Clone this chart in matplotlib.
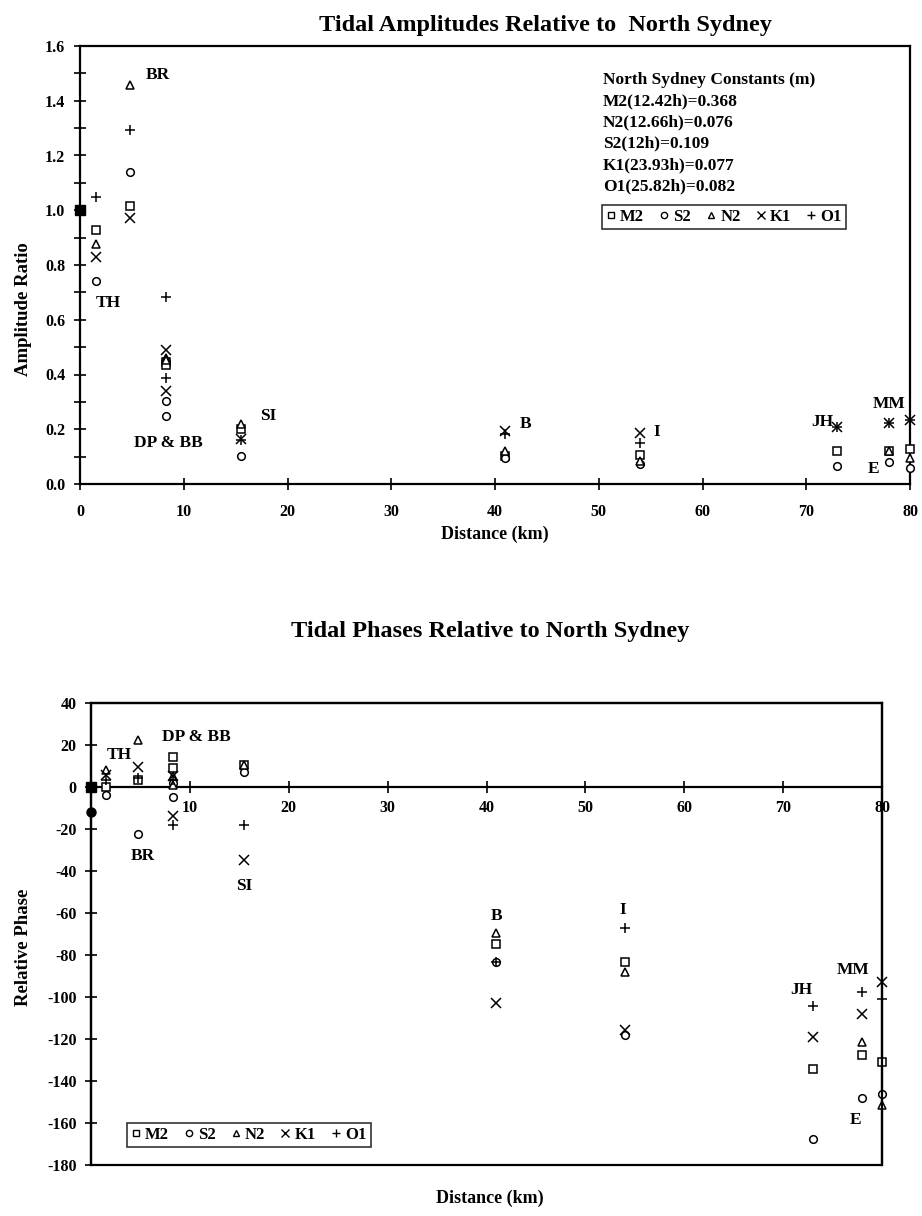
import numpy as np
import matplotlib
matplotlib.use("Agg")
import matplotlib.pyplot as plt
from matplotlib.lines import Line2D
from matplotlib.patches import Rectangle

plt.rcParams['font.family'] = ['Liberation Serif', 'DejaVu Serif']
plt.rcParams['font.weight'] = 'bold'
plt.rcParams['axes.unicode_minus'] = False

# ---------------- data ----------------
dist = [1.5, 4.8, 8.3, 8.3, 15.5, 41.0, 54.0, 73.0, 78.0, 80.0]   # TH, BR, DP, BB, SI, B, I, JH, MM, E
nan = np.nan

amp_M2 = [0.927, 1.016, 0.445, 0.433, 0.201, 0.104, 0.107, 0.122, 0.122, 0.128]
amp_S2 = [0.741, 1.138, 0.305, 0.250, 0.104, 0.095, 0.073, 0.067, 0.079, 0.059]
amp_N2 = [0.878, 1.457, 0.460, 0.452, 0.220, 0.122, 0.085, nan, 0.122, 0.095]
amp_K1 = [0.829, 0.970, 0.491, 0.338, 0.165, 0.195, 0.185, 0.207, 0.222, 0.234]
amp_O1 = [1.048, 1.293, 0.682, 0.386, 0.160, 0.183, 0.149, 0.207, 0.222, 0.234]

ph_M2 = [0.0, 3.2, 14.0, 8.8, 10.5, -75.0, -83.6, -134.1, -127.8, -131.2]
ph_S2 = [-3.9, -22.5, 2.0, -4.8, 7.0, -83.3, -117.9, -167.4, -148.1, -146.0]
ph_N2 = [8.0, 22.2, 5.0, 0.8, 10.5, -69.8, -88.1, nan, -121.4, -151.6]
ph_K1 = [5.5, 9.2, 5.0, -14.0, -35.0, -103.0, -115.9, -119.0, -108.2, -92.9]
ph_O1 = [3.2, 4.1, 3.0, -18.3, -18.3, -83.3, -67.1, -104.3, -97.9, -101.1]

# reference station (North Sydney)
ref_amp = [1.0]
ref_phase = [0.0]
ref_phase_extra = [-12.0]

constituents = ['M2', 'S2', 'N2', 'K1', 'O1']
markers = ['s', 'o', '^', 'x', '+']
amps = [amp_M2, amp_S2, amp_N2, amp_K1, amp_O1]
phases = [ph_M2, ph_S2, ph_N2, ph_K1, ph_O1]

constants_text = ["North Sydney Constants (m)",
                  "M2(12.42h)=0.368",
                  "N2(12.66h)=0.076",
                  "S2(12h)=0.109",
                  "K1(23.93h)=0.077",
                  "O1(25.82h)=0.082"]

amp_labels = [("BR", 6.3, 1.494, 'left'), ("TH", 2.75, 0.661, 'center'),
              ("DP & BB", 8.5, 0.149, 'center'), ("SI", 18.1, 0.25, 'center'),
              ("B", 42.9, 0.22, 'center'), ("I", 55.6, 0.189, 'center'),
              ("JH", 71.5, 0.225, 'center'), ("MM", 78.0, 0.293, 'center'),
              ("E", 76.5, 0.055, 'center')]
phase_labels = [("TH", 2.85, 15.1), ("DP & BB", 10.7, 23.8), ("BR", 5.2, -33.0),
                ("SI", 15.5, -47.0), ("B", 41.0, -61.3), ("I", 53.8, -58.7),
                ("JH", 71.8, -96.8), ("MM", 77.1, -87.3), ("E", 77.3, -158.7)]

# ---------------- figure ----------------
W, H = 922, 1216
fig = plt.figure(figsize=(W / 100, H / 100), dpi=100)

def ax_rect(l, r, t, b):
    return [l / W, 1 - b / H, (r - l) / W, (b - t) / H]

def fx(px):
    return px / W

def fy(py):
    return 1 - py / H

ms = 5.5
mew = 1.1
tick_fs = 11.5
lab_fs = 13

def draw_markers(ax, ys):
    for m, y in zip(markers, ys):
        if m in ('x', '+'):
            ax.plot(dist, y, linestyle='none', marker=m, color='black',
                    ms=ms + 1, mew=mew, clip_on=False, zorder=3)
        else:
            ax.plot(dist, y, linestyle='none', marker=m, mfc='white', mec='black',
                    ms=ms, mew=mew, clip_on=False, zorder=3)

def make_legend(ax, loc_xy):
    handles = []
    for m, c in zip(markers, constituents):
        if m in ('x', '+'):
            h = Line2D([], [], linestyle='none', marker=m, color='black', ms=ms, mew=1.0)
        else:
            h = Line2D([], [], linestyle='none', marker=m, mfc='white', mec='black', ms=ms - 1, mew=1.0)
        handles.append(h)
    leg = ax.legend(handles, constituents, loc='lower left', bbox_to_anchor=loc_xy,
                    ncol=5, frameon=True, fancybox=False, handlelength=0.6,
                    handletextpad=0.25, columnspacing=0.9, borderpad=0.25,
                    borderaxespad=0, prop={'weight': 'bold', 'size': 12})
    leg.get_frame().set_edgecolor('black')
    leg.get_frame().set_linewidth(1.2)
    return leg

# ---------- top: amplitudes ----------
ax1 = fig.add_axes(ax_rect(80, 910, 46, 484))
draw_markers(ax1, amps)
ax1.plot([0], ref_amp, linestyle='none', marker='s', color='black', ms=6.5, clip_on=False, zorder=4)
ax1.set_xlim(0, 80)
ax1.set_ylim(0, 1.6)
ax1.set_xticks(np.arange(0, 81, 10))
ax1.set_yticks(np.arange(0, 1.61, 0.2))
ax1.set_yticks(np.arange(0.1, 1.6, 0.2), minor=True)
ax1.set_yticklabels([f"{v:.1f}" for v in np.arange(0, 1.61, 0.2)])
ax1.tick_params(axis='both', which='both', direction='inout', length=9, width=1.2,
                labelsize=tick_fs, pad=6)
ax1.tick_params(axis='x', pad=10)
for s in ax1.spines.values():
    s.set_linewidth(1.6)
for t in ax1.get_xticklabels() + ax1.get_yticklabels():
    t.set_fontweight('bold')

for txt, x, y, ha in amp_labels:
    ax1.text(x, y, txt, ha=ha, va='center', fontsize=12.5, fontweight='bold')

for i, line in enumerate(constants_text):
    ax1.text(50.4, 1.476 - i * 0.0776, line, ha='left', va='center', fontsize=12.5, fontweight='bold')
make_legend(ax1, (0.6286, 0.5815))

fig.text(fx(545), fy(26), "Tidal Amplitudes Relative to  North Sydney", ha='center', va='center',
         fontsize=17.5, fontweight='bold')
fig.text(fx(495), fy(534), "Distance (km)", ha='center', va='center', fontsize=lab_fs, fontweight='bold')
fig.text(fx(24), fy(309), "Amplitude Ratio", ha='center', va='center', rotation=90,
         fontsize=lab_fs + 0.5, fontweight='bold')

# ---------- bottom: phases ----------
ax2 = fig.add_axes(ax_rect(91, 882, 702.7, 1165))
draw_markers(ax2, phases)
ax2.plot([0], ref_phase, linestyle='none', marker='s', color='black', ms=6.5, clip_on=False, zorder=4)
ax2.plot([0], ref_phase_extra, linestyle='none', marker='o', color='black', ms=6.5, clip_on=False, zorder=4)
ax2.set_xlim(0, 80)
ax2.set_ylim(-180, 40)
ax2.set_xticks(np.arange(10, 81, 10))
ax2.set_yticks(np.arange(-180, 41, 20))
ax2.spines['bottom'].set_position(('data', 0))
ax2.add_patch(Rectangle((0, 0), 1, 1, transform=ax2.transAxes, fill=False,
                        edgecolor='black', linewidth=1.6, clip_on=False, zorder=5))
ax2.tick_params(axis='both', which='both', direction='inout', length=9, width=1.2,
                labelsize=tick_fs, pad=6)
ax2.tick_params(axis='x', pad=5)
for s in ax2.spines.values():
    s.set_linewidth(1.6)
for t in ax2.get_xticklabels() + ax2.get_yticklabels():
    t.set_fontweight('bold')

for txt, x, y in phase_labels:
    ax2.text(x, y, txt, ha='center', va='center', fontsize=12.5, fontweight='bold')
make_legend(ax2, (0.045, 0.039))

fig.text(fx(490), fy(632), "Tidal Phases Relative to North Sydney", ha='center', va='center',
         fontsize=17.5, fontweight='bold')
fig.text(fx(490), fy(1198), "Distance (km)", ha='center', va='center', fontsize=lab_fs, fontweight='bold')
fig.text(fx(24), fy(947), "Relative Phase", ha='center', va='center', rotation=90,
         fontsize=lab_fs + 0.5, fontweight='bold')

fig.savefig("out.png", dpi=100)
